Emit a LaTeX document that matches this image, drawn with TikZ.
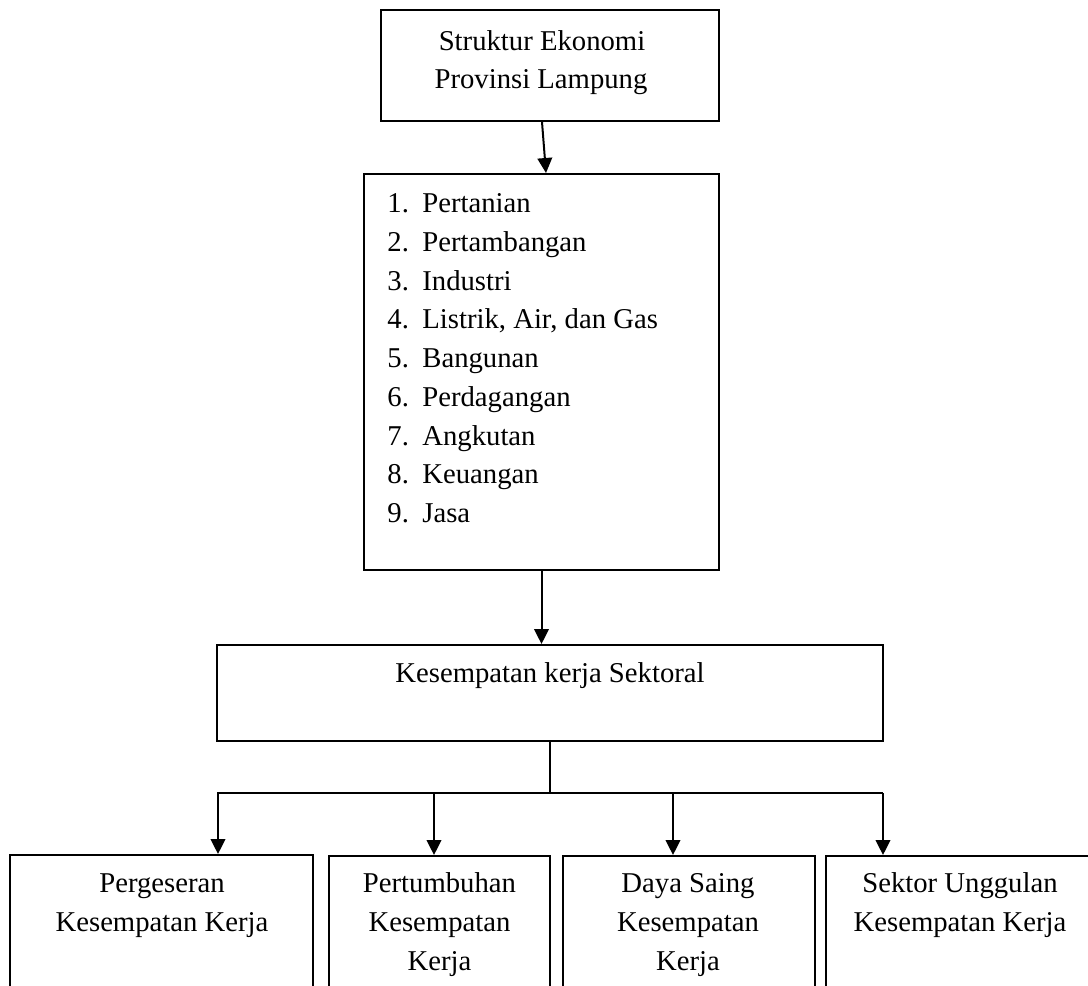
\documentclass[tikz,border=0pt]{standalone}
\usepackage{fontspec}
\setmainfont{Liberation Serif}
\usetikzlibrary{arrows.meta,calc}
\begin{document}
\begin{tikzpicture}[x=0.5pt,y=-0.5pt,
  box/.style={draw,line width=1pt,rectangle,inner sep=0pt},
  txt/.style={inner sep=0pt,font=\fontsize{14.35pt}{19.35pt}\selectfont},
  conn/.style={line width=1pt},
  arr/.style={line width=1pt,-{Triangle[length=7.5pt,width=7.3pt]}}]
\useasboundingbox (0,0) rectangle (1088,986);
\clip (0,0) rectangle (1088,986);
% boxes
\node[box,minimum width=169pt,minimum height=55.5pt] (top) at (550,65.5) {};
\node[box,minimum width=177.5pt,minimum height=198pt] (list) at (541.5,372) {};
\node[box,minimum width=333pt,minimum height=48pt] (sek) at (550,693) {};
\node[box,minimum width=151.5pt,minimum height=72.5pt] (b1) at (161.5,927.5) {};
\node[box,minimum width=110.5pt,minimum height=72.5pt] (b2) at (439.5,928.5) {};
\node[box,minimum width=126pt,minimum height=72.5pt] (b3) at (689,928.5) {};
\node[box,minimum width=137pt,minimum height=72.5pt] (b4) at (963,928.5) {};
% top text
\node[txt,anchor=base] (t1) at (542,50.5) {Struktur Ekonomi};
\node[txt,anchor=base] (t2) at (541,88) {Provinsi Lampung};
% list
\foreach \i/\s in {1/Pertanian,2/Pertambangan,3/Industri,4/{Listrik, Air, dan Gas},5/Bangunan,6/Perdagangan,7/Angkutan,8/Keuangan,9/Jasa}{
  \node[txt,anchor=base west] (l\i) at (387,{212.5+38.75*(\i-1)}) {\makebox[17.5pt][l]{\i.}\s};
}
% sektoral text
\node[txt,anchor=base] (st) at (550,682.5) {Kesempatan kerja Sektoral};
% bottom texts
\node[txt,anchor=base] (p1) at (162,892.5) {Pergeseran};
\node[txt,anchor=base] (p2) at (162,931.5) {Kesempatan Kerja};
\node[txt,anchor=base] (q1) at (439.5,892.5) {Pertumbuhan};
\node[txt,anchor=base] (q2) at (439.5,931.5) {Kesempatan};
\node[txt,anchor=base] (q3) at (439.5,970) {Kerja};
\node[txt,anchor=base] (r1) at (688,892.5) {Daya Saing};
\node[txt,anchor=base] (r2) at (688,931.5) {Kesempatan};
\node[txt,anchor=base] (r3) at (688,970) {Kerja};
\node[txt,anchor=base] (s1) at (960,892.5) {Sektor Unggulan};
\node[txt,anchor=base] (s2) at (960,931.5) {Kesempatan Kerja};
% connectors
\draw[arr] ($(top.south)+(-8,0)$) -- ($(list.north)+(4.5,0)$);
\draw[arr] (list.south) -- (list.south |- sek.north);
\coordinate (hm) at (550,793);
\coordinate (hl) at (217,793);
\coordinate (hr) at (883,793);
\coordinate (h1) at (218,793);
\coordinate (h2) at (434,793);
\coordinate (h3) at (673,793);
\coordinate (h4) at (883,793);
\draw[conn] (sek.south) -- (hm);
\draw[conn] (hl) -- (hr);
\draw[arr] (h1) -- (h1 |- b1.north);
\draw[arr] (h2) -- (h2 |- b2.north);
\draw[arr] (h3) -- (h3 |- b3.north);
\draw[arr] (h4) -- (h4 |- b4.north);
\end{tikzpicture}
\end{document}
